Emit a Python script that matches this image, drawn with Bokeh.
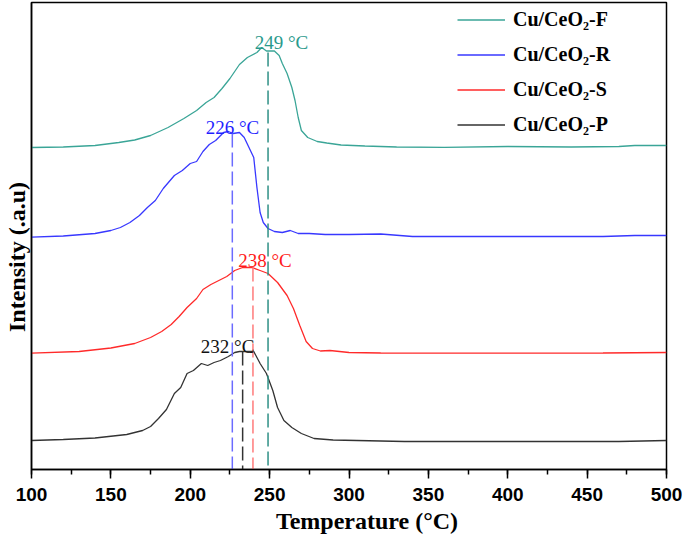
from bokeh.plotting import figure
from bokeh.models import (Range1d, SingleIntervalTicker, FixedTicker,
                          Legend, LegendItem, ColumnDataSource)
from bokeh.embed import file_html
from bokeh.resources import INLINE
from bokeh.core.properties import value

# ---------------- data ----------------
series_names = ["Cu/CeO\u2082-F", "Cu/CeO\u2082-R", "Cu/CeO\u2082-S", "Cu/CeO\u2082-P"]

temp_F = [100, 120, 140, 155, 165, 175, 186, 196, 204, 210, 215, 220, 225, 231, 236, 242, 245,
          248, 253, 256, 258, 261, 264, 266, 268, 270, 274, 280, 286, 295, 310, 330, 360, 400,
          440, 470, 480, 500]
int_F = [322, 322.5, 324, 327, 329.5, 334, 342, 351, 359, 367, 372, 381, 391, 405, 412, 417, 422,
         418.5, 418.5, 414, 406, 396, 382, 369, 352, 339, 332, 328, 326.5, 324.5, 323.5, 322.5,
         322.2, 323, 322.5, 323, 324, 324]

temp_R = [100, 120, 140, 150, 156, 162, 168, 173, 178, 183, 190, 195, 200, 204, 208, 212, 216,
          221, 224, 227, 231, 234, 237, 240, 242, 244, 246, 249, 253, 258, 263, 268, 275, 285,
          300, 320, 340, 380, 420, 460, 480, 500]
int_R = [232.3, 233.5, 236, 239, 242, 247, 254, 262, 269, 281, 294, 299, 306, 308, 318, 325, 329,
         337, 338, 336, 337, 332, 322, 312, 282, 257, 247, 241, 238, 237, 239, 236, 236, 235,
         235, 235.5, 233, 233, 233, 233, 234, 234]

temp_S = [100, 130, 150, 165, 175, 182, 188, 193, 198, 204, 208, 213, 218, 223, 228, 233, 239,
          244, 249, 255, 261, 265, 269, 273, 277, 282, 288, 300, 320, 340, 400, 460, 500]
int_S = [116.3, 118, 121.5, 126, 132, 138, 145, 153, 162, 171, 180, 185, 189, 193, 199, 202, 202,
         199, 196, 187, 174, 161, 144, 128, 121, 118.5, 119, 117, 116.5, 116.3, 116.3, 116.5, 117]

temp_P = [100, 120, 140, 160, 170, 175, 180, 185, 190, 194, 198, 202, 207, 211, 215, 219, 224,
          228, 231, 240, 244, 248, 252, 255, 259, 264, 270, 278, 290, 305, 335, 470, 500]
int_P = [29, 30, 31.5, 35, 39, 43, 51, 60, 76, 82, 96, 99, 106, 104, 107, 109, 113,
         117, 118, 118, 106, 96, 79, 62, 49, 42, 36, 31, 29.5, 29, 28, 28, 29]

# peak markers
peak_x = [249, 226.5, 239.5, 233]
peak_top = [417, 336, 202, 118]
peak_text = ["249 \u00b0C", "226 \u00b0C", "238 \u00b0C", "232 \u00b0C"]
peak_label_x = [257.5, 226.6, 247.1, 223.5]
peak_label_y = [427, 342, 209.5, 123]

x_title = "\u00a0" * 6 + "Temperature (\u00b0C)"
y_title = "Intensity (.a.u)" + "\u00a0" * 7

line_colors = ["#3aa597", "#3838ff", "#ff2a2a", "#333333"]
dash_colors = ["#2e8f85", "#6b6bff", "#ff7a7a", "#333333"]
text_colors = ["#2a9a8c", "#1f1fff", "#ff1a1a", "#111111"]

# ---------------- figure ----------------
p = figure(width=685, height=539, output_backend="svg", toolbar_location=None,
           x_range=Range1d(100, 500), y_range=Range1d(0, 467),
           min_border_left=31, min_border_right=19, min_border_top=2, min_border_bottom=70)
p.xgrid.visible = False
p.ygrid.visible = False
p.outline_line_color = "black"
p.outline_line_width = 1.5
p.background_fill_color = "white"
p.border_fill_color = "white"

xa = p.xaxis[0]
xa.ticker = SingleIntervalTicker(interval=50, num_minor_ticks=2)
xa.major_tick_out = 9
xa.major_tick_in = 0
xa.minor_tick_out = 5
xa.minor_tick_in = 0
xa.axis_line_width = 1.5
xa.major_tick_line_width = 1.5
xa.minor_tick_line_width = 1.5
xa.axis_line_color = "black"
xa.major_tick_line_color = "black"
xa.minor_tick_line_color = "black"
xa.major_label_text_font = "Liberation Sans"
xa.major_label_text_font_style = "bold"
xa.major_label_text_font_size = "19px"
xa.major_label_text_color = "black"
xa.major_label_standoff = 9
xa.axis_label = x_title
xa.axis_label_text_font = "Liberation Serif"
xa.axis_label_text_font_style = "bold"
xa.axis_label_text_font_size = "24px"
xa.axis_label_text_color = "black"
xa.axis_label_standoff = 4

ya = p.yaxis[0]
ya.ticker = FixedTicker(ticks=[])
ya.major_label_text_font_size = "0px"
ya.major_label_standoff = 0
ya.major_tick_out = 0
ya.major_tick_in = 0
ya.minor_tick_out = 0
ya.minor_tick_in = 0
ya.axis_line_width = 1.5
ya.axis_line_color = "black"
ya.axis_label = y_title
ya.axis_label_text_font = "Liberation Serif"
ya.axis_label_text_font_style = "bold"
ya.axis_label_text_font_size = "24px"
ya.axis_label_text_color = "black"
ya.axis_label_standoff = 2

temps = [temp_F, temp_R, temp_S, temp_P]
ints = [int_F, int_R, int_S, int_P]
renderers = []
for t, v, c in zip(temps, ints, line_colors):
    renderers.append(p.line(t, v, line_color=c, line_width=1.3))

dash_src = ColumnDataSource(dict(x=peak_x, top=peak_top, bottom=[0] * len(peak_x), color=dash_colors))
p.segment(x0="x", y0="top", x1="x", y1="bottom", source=dash_src, line_color="color",
          line_width=1.5, line_dash="14 5")

lab_src = ColumnDataSource(dict(x=peak_label_x, y=peak_label_y, text=peak_text, color=text_colors))
p.text(x="x", y="y", text="text", source=lab_src, text_color="color",
       text_font=value("Liberation Serif"), text_font_size="19px",
       text_align="center", text_baseline="alphabetic")

legend = Legend(items=[LegendItem(label=n, renderers=[r]) for n, r in zip(series_names, renderers)],
                location=(426, 327), orientation="vertical",
                glyph_width=48, glyph_height=35, label_height=35, label_standoff=8,
                spacing=0, padding=0, margin=0,
                label_text_font="Liberation Serif", label_text_font_style="bold",
                label_text_font_size="20px", label_text_color="black",
                border_line_color=None, background_fill_alpha=0)
p.add_layout(legend, "center")

open("out.html", "w").write(file_html(p, INLINE))
